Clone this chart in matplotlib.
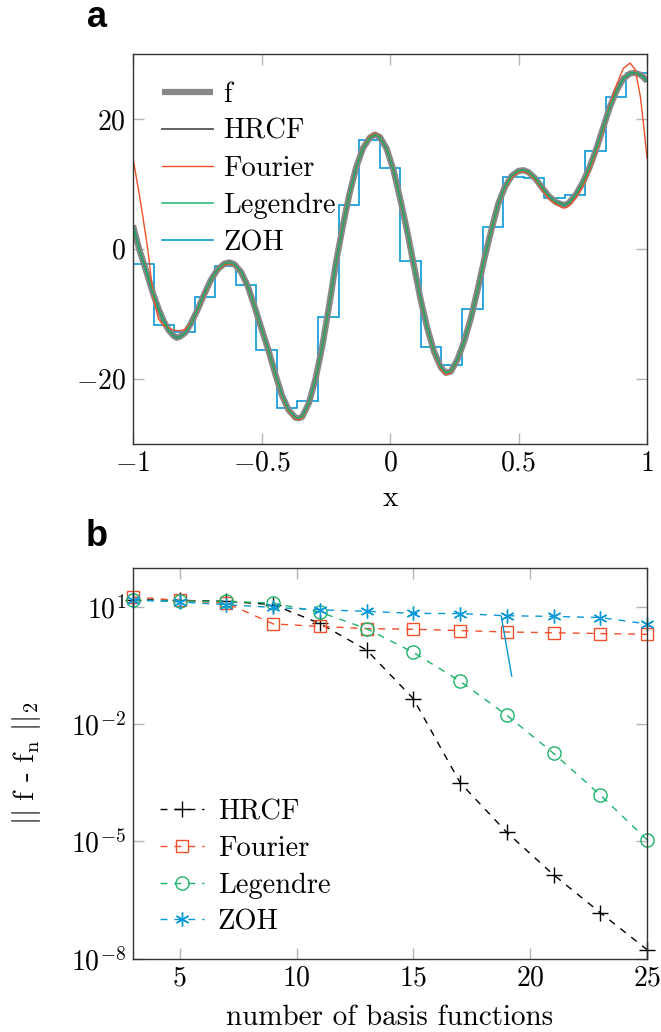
import numpy as np
import matplotlib
matplotlib.use('Agg')
import matplotlib.pyplot as plt

# ---- panel a: f and its approximations ----
f_x = [-1.0, -0.987, -0.974, -0.961, -0.941, -0.921, -0.901, -0.882, -0.862, -0.842,
       -0.829, -0.816, -0.796, -0.776, -0.750, -0.724, -0.697, -0.671, -0.645, -0.624,
       -0.605, -0.579, -0.553, -0.526, -0.500, -0.474, -0.447, -0.421, -0.395, -0.368,
       -0.355, -0.342, -0.316, -0.289, -0.263, -0.237, -0.211, -0.184, -0.158, -0.132,
       -0.105, -0.079, -0.059, -0.039, -0.013, 0.013, 0.039, 0.066, 0.092, 0.118,
       0.145, 0.171, 0.197, 0.217, 0.237, 0.263, 0.289, 0.316, 0.342, 0.368,
       0.395, 0.421, 0.447, 0.474, 0.500, 0.520, 0.539, 0.566, 0.592, 0.618,
       0.645, 0.671, 0.684, 0.697, 0.724, 0.750, 0.776, 0.803, 0.829, 0.855,
       0.882, 0.908, 0.934, 0.954, 0.974, 0.987, 1.0]
f_y = [3.6, 1.6, -0.3, -1.9, -4.4, -7.0, -9.2, -11.0, -12.5, -13.4,
       -13.7, -13.5, -12.9, -11.6, -9.5, -7.1, -4.8, -3.2, -2.3, -2.1,
       -2.4, -3.6, -5.8, -9.0, -12.3, -15.5, -19.2, -22.5, -24.8, -26.0,
       -26.1, -25.9, -23.8, -19.9, -14.9, -8.8, -2.3, 3.4, 8.4, 12.5,
       15.5, 17.1, 17.6, 17.2, 15.4, 12.2, 7.8, 2.9, -2.4, -7.6,
       -12.2, -15.8, -18.2, -19.1, -18.9, -17.0, -14.2, -10.5, -6.1, -1.4,
       3.0, 6.9, 9.5, 11.25, 12.0, 12.1, 11.8, 10.8, 9.4, 8.1,
       7.2, 6.8, 6.8, 7.1, 8.4, 10.2, 12.5, 15.4, 18.6, 21.8,
       24.4, 26.2, 27.0, 27.1, 26.8, 26.4, 25.8]
fourier_y = [14.0, 11.0, 8.0, 4.8, -0.5, -7.5, -10.8, -11.8, -12.2, -12.5,
             -12.6, -12.6, -12.4, -11.4, -9.7, -7.3, -4.9, -3.3, -2.5, -2.3,
             -2.5, -3.7, -5.9, -9.1, -12.4, -15.6, -19.3, -22.7, -25.0, -26.2,
             -26.3, -26.1, -23.9, -19.9, -14.9, -8.8, -2.3, 3.4, 8.4, 12.5,
             15.6, 17.3, 17.8, 17.3, 15.4, 12.2, 7.8, 2.9, -2.4, -7.7,
             -12.3, -16.0, -18.5, -19.4, -19.1, -17.1, -14.2, -10.5, -6.1, -1.4,
             3.0, 6.8, 9.3, 11.0, 11.8, 11.9, 11.6, 10.6, 9.1, 7.7,
             6.9, 6.3, 6.3, 6.6, 7.9, 9.6, 12.0, 15.0, 18.3, 22.0,
             25.3, 27.8, 28.6, 27.6, 23.5, 19.0, 14.0]
hrcf_y = f_y        # indistinguishable from f at this scale
legendre_y = f_y    # indistinguishable from f at this scale
zoh_levels = [-2.3, -11.7, -12.8, -7.4, -2.6, -5.6, -15.6, -24.5, -23.5, -10.5,
              6.8, 16.7, 12.4, -1.9, -15.2, -17.9, -9.2, 3.4, 11.0, 10.9,
              7.8, 8.3, 15.1, 23.4, 27.0]
x_ticks = [-1, -0.5, 0, 0.5, 1]
x_ticklabels = ['$-1$', '$-0.5$', '$0$', '$0.5$', '$1$']
y_ticks = [-20, 0, 20]
y_ticklabels = ['$-20$', '$0$', '$20$']

# ---- panel b: approximation error vs number of basis functions ----
n_basis = [3, 5, 7, 9, 11, 13, 15, 17, 19, 21, 23, 25]
err_hrcf = [15.5, 14.8, 14.1, 11.5, 3.8, 0.79, 0.045, 3.2e-4, 1.7e-5, 1.4e-6, 1.5e-7, 1.7e-8]
err_fourier = [18.2, 14.8, 12.6, 3.7, 3.2, 2.8, 2.7, 2.5, 2.3, 2.2, 2.1, 2.0]
err_legendre = [14.8, 14.1, 14.1, 12.6, 7.4, 2.8, 0.69, 0.126, 0.017, 1.8e-3, 1.55e-4, 1.1e-5]
err_zoh = [15.5, 13.5, 11.5, 9.8, 8.5, 7.8, 6.9, 6.8, 6.0, 5.75, 5.4, 3.7]
stray_x = [18.76, 19.21]
stray_y = [5.9, 0.17]

C_F = '#888888'
C_HRCF = '#555555'
C_FOU = '#f0502a'
C_LEG = '#1db36b'
C_ZOH = '#0b98d8'

plt.rcParams['font.family'] = 'cmr10'
plt.rcParams['mathtext.fontset'] = 'cm'
plt.rcParams['axes.formatter.use_mathtext'] = True
plt.rcParams['font.size'] = 20


def style_axes(ax):
    for s in ax.spines.values():
        s.set_color('#333333')
        s.set_linewidth(1.0)
    ax.tick_params(which='both', direction='in', top=True, right=True,
                   length=8, width=1, color='#b5b5b5', labelsize=20, pad=5)
    ax.tick_params(which='minor', length=0)


fig = plt.figure(figsize=(6.61, 10.32), dpi=100)
W, H = 661.0, 1032.0
ax1 = fig.add_axes([133 / W, 1 - 443.6 / H, 514 / W, 389.6 / H])
ax2 = fig.add_axes([133 / W, 1 - 958.6 / H, 514 / W, 390.6 / H])

# panel a
ax1.plot(f_x, f_y, color=C_F, lw=4.5, label='f', solid_capstyle='butt')
ax1.plot(f_x, hrcf_y, color=C_HRCF, lw=1.3, label='HRCF')
ax1.plot(f_x, fourier_y, color=C_FOU, lw=1.0, label='Fourier')
ax1.plot(f_x, legendre_y, color=C_LEG, lw=1.1, label='Legendre')
edges = np.linspace(-1, 1, len(zoh_levels) + 1)
ax1.stairs(zoh_levels, edges, color=C_ZOH, lw=1.2, label='ZOH', baseline=None)
ax1.set_xlim(-1, 1)
ax1.set_ylim(-30, 30)
ax1.set_xticks(x_ticks)
ax1.set_xticklabels(x_ticklabels)
ax1.set_yticks(y_ticks)
ax1.set_yticklabels(y_ticklabels)
ax1.set_xlabel('x', labelpad=6, fontsize=21)
style_axes(ax1)
ax1.legend(loc='upper left', bbox_to_anchor=(0.056, 0.93), frameon=False,
           borderpad=0, borderaxespad=0, handlelength=1.8, handletextpad=0.36,
           labelspacing=0.38, fontsize=20.5)

# panel b
ax2.plot(n_basis, err_hrcf, color='black', lw=1, dashes=(5, 5), marker='+', ms=11,
         mew=1, label='HRCF', clip_on=False)
ax2.plot(n_basis, err_fourier, color=C_FOU, lw=1, dashes=(5, 5), marker='s', ms=9,
         mfc='none', mew=1, label='Fourier', clip_on=False)
ax2.plot(n_basis, err_legendre, color=C_LEG, lw=1, dashes=(5, 5), marker='o', ms=9.5,
         mfc='none', mew=1, label='Legendre', clip_on=False)
ax2.plot(n_basis, err_zoh, color=C_ZOH, lw=1, dashes=(5, 5), marker=(6, 2, 0), ms=10,
         mew=1, label='ZOH', clip_on=False)
ax2.plot(stray_x, stray_y, color=C_ZOH, lw=1)
ax2.set_yscale('log')
ax2.set_xlim(3, 25)
ax2.set_ylim(1e-8, 1e2)
ax2.set_xticks([5, 10, 15, 20, 25])
ax2.set_yticks([1e1, 1e-2, 1e-5, 1e-8])
ax2.set_xlabel('number of basis functions', labelpad=9, fontsize=21)
ax2.set_ylabel(r'$||\ \mathrm{f}$ - $\mathrm{f_n}\ ||_2$', labelpad=20, fontsize=21)
style_axes(ax2)
ax2.legend(loc='lower left', bbox_to_anchor=(0.053, 0.06), frameon=False,
           borderpad=0, borderaxespad=0, handlelength=1.55, handletextpad=0.47,
           labelspacing=0.36, numpoints=1, fontsize=20.5)

fig.text(97 / W, 1 - 27 / H, 'a', ha='center', va='baseline', fontsize=26,
         fontweight='bold', family='Liberation Sans')
fig.text(97 / W, 1 - 546 / H, 'b', ha='center', va='baseline', fontsize=26,
         fontweight='bold', family='Liberation Sans')

fig.savefig('out.png', dpi=100)
